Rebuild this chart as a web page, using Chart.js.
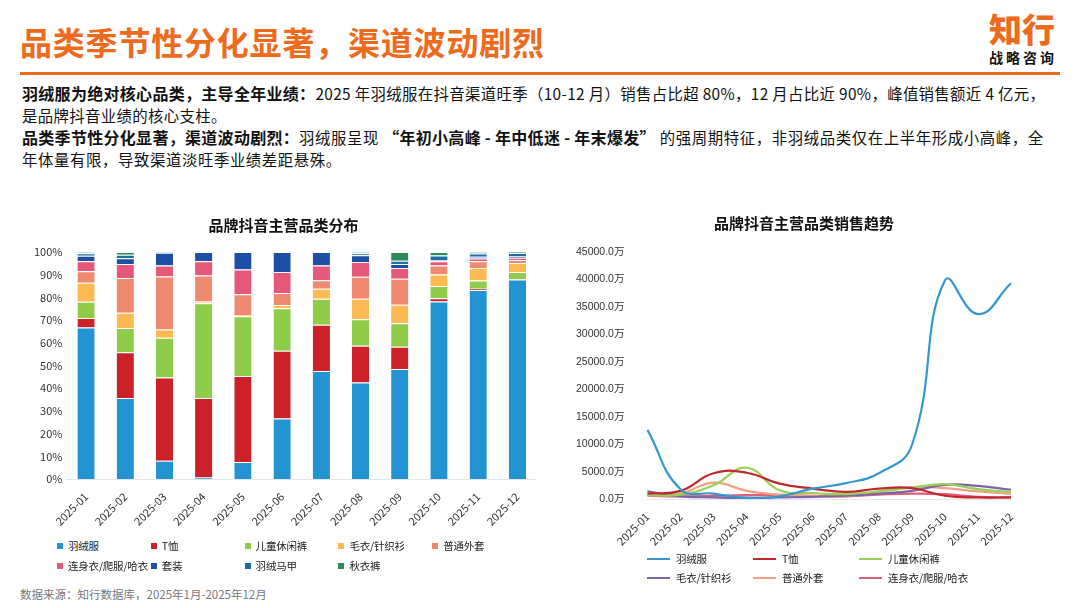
<!DOCTYPE html>
<html>
<head>
<meta charset="utf-8">
<script src="https://cdn.jsdelivr.net/npm/chart.js@4"></script>
<style>
body { margin: 0; width: 1080px; height: 608px; background: #fff; font-family: "Noto Sans CJK SC", "Noto Sans", sans-serif; position: relative; overflow: hidden; }
.title { position: absolute; left: 20px; top: 17px; font-size: 32px; line-height: 48px; font-weight: bold; color: #ee6a1c; letter-spacing: 0.8px; }
.logo1 { position: absolute; right: 25px; top: 6px; font-size: 33px; line-height: 44px; font-weight: 900; color: #ee6a1c; }
.logo2 { position: absolute; right: 23px; top: 47px; font-size: 14px; font-weight: bold; color: #111; letter-spacing: 3px; }
.rule { position: absolute; left: 20px; top: 72px; width: 1040px; height: 3px; background: #ee6a1c; }
.text { position: absolute; left: 22px; top: 82px; font-size: 15.4px; line-height: 22px; color: #111; }
.text b { font-weight: bold; font-size: 16px; letter-spacing: 0.3px; }
.p1 { width: 1036px; letter-spacing: 0.35px; }
.p2 { width: 1030px; letter-spacing: 0.6px; }
.src { position: absolute; left: 20px; top: 586px; font-size: 11.5px; color: #777; }
#c1 { position: absolute; left: 30px; top: 208px; }
#c2 { position: absolute; left: 553px; top: 206px; }
.leg { position: absolute; font-size: 10.5px; color: #222; letter-spacing: -0.2px; }
.leg span { position: absolute; white-space: nowrap; }
.leg i { display: inline-block; vertical-align: middle; margin-right: 5px; position: relative; top: -1px; }
</style>
</head>
<body>
<div class="title">品类季节性分化显著，渠道波动剧烈</div>
<div class="logo1">知行</div>
<div class="logo2">战略咨询</div>
<div class="rule"></div>
<div class="text">
<div class="p1"><b>羽绒服为绝对核心品类，主导全年业绩：</b>2025 年羽绒服在抖音渠道旺季（10-12 月）销售占比超 80%，12 月占比近 90%，峰值销售额近 4 亿元，是品牌抖音业绩的核心支柱。</div>
<div class="p2"><b>品类季节性分化显著，渠道波动剧烈：</b>羽绒服呈现 <b>“年初小高峰 - 年中低迷 - 年末爆发”</b> 的强周期特征，非羽绒品类仅在上半年形成小高峰，全年体量有限，导致渠道淡旺季业绩差距悬殊。</div>
</div>
<canvas id="c1" width="507" height="323"></canvas>
<canvas id="c2" width="502" height="345"></canvas>
<div class="leg" id="leg1"></div>
<div class="leg" id="leg2"></div>
<div class="src">数据来源：知行数据库，2025年1月-2025年12月</div>
<script>
var months = ['2025-01', '2025-02', '2025-03', '2025-04', '2025-05', '2025-06', '2025-07', '2025-08', '2025-09', '2025-10', '2025-11', '2025-12'];

// 品类分布（%）
var shareNames = ['羽绒服', 'T恤', '儿童休闲裤', '毛衣/针织衫', '普通外套', '连身衣/爬服/哈衣', '套装', '羽绒马甲', '秋衣裤'];
var shareColors = ['#2493d1', '#cc2128', '#8fcc4a', '#fdb954', '#ef8a70', '#e5587a', '#1f4ea6', '#1d6ea6', '#2e8a5a'];
var shareDown = [66.8, 35.7, 8.1, 0.7, 7.5, 26.7, 47.6, 42.5, 48.5, 78.2, 83.3, 87.9];
var shareTee = [4.1, 20.1, 36.6, 35.0, 37.9, 29.8, 20.4, 16.2, 9.8, 1.4, 0.5, 0.2];
var shareKidsPants = [7.2, 10.7, 17.5, 41.7, 26.3, 18.7, 11.4, 11.7, 10.3, 5.4, 3.7, 3.1];
var shareKnit = [8.4, 6.7, 3.7, 0.8, 0.6, 1.5, 4.4, 9.0, 8.2, 5.1, 5.4, 4.0];
var shareCoat = [5.0, 15.3, 23.3, 11.5, 9.1, 5.2, 3.8, 9.7, 11.4, 4.0, 3.0, 1.3];
var shareRomper = [4.4, 6.2, 4.9, 6.2, 10.9, 9.3, 6.5, 6.5, 4.7, 1.8, 1.2, 1.0];
var shareSet = [2.5, 2.6, 5.6, 4.1, 7.7, 8.8, 5.9, 3.0, 1.8, 0.5, 0.8, 0.5];
var shareVest = [1.0, 1.5, 0.2, 0, 0, 0, 0, 0.8, 1.5, 2.1, 1.4, 1.6];
var shareThermal = [0.6, 1.2, 0.1, 0, 0, 0, 0, 0.6, 3.8, 1.5, 0.7, 0.4];
var shareData = [shareDown, shareTee, shareKidsPants, shareKnit, shareCoat, shareRomper, shareSet, shareVest, shareThermal];
var shareTicks = [0, 10, 20, 30, 40, 50, 60, 70, 80, 90, 100];

// 销售趋势（万元）
var trendNames = ['羽绒服', 'T恤', '儿童休闲裤', '毛衣/针织衫', '普通外套', '连身衣/爬服/哈衣'];
var trendColors = ['#3497cf', '#c1272d', '#98d058', '#7c64a6', '#f1a083', '#e45b78'];
var salesDown = [12600, 1800, 1000, 200, 500, 1900, 2900, 4700, 9800, 39800, 33700, 39300];
var salesTee = [1000, 1500, 4700, 4800, 2800, 1900, 1300, 1900, 2000, 600, 300, 300];
var salesKidsPants = [700, 800, 2500, 5700, 1600, 1100, 900, 1400, 2100, 2700, 1800, 1300];
var salesKnit = [1400, 500, 300, 200, 300, 400, 600, 1000, 1500, 2600, 2400, 1700];
var salesCoat = [700, 1000, 3000, 1500, 800, 600, 500, 1300, 2200, 2000, 1400, 1000];
var salesRomper = [600, 500, 600, 700, 700, 600, 500, 800, 1000, 900, 400, 300];
var salesData = [salesDown, salesTee, salesKidsPants, salesKnit, salesCoat, salesRomper];

Chart.defaults.font.family = 'Noto Sans CJK SC';
Chart.defaults.color = '#333';
Chart.defaults.animation = false;

var barSets = [];
for (var i = 0; i < shareNames.length; i++) {
    barSets.push({
        label: shareNames[i],
        data: shareData[i],
        backgroundColor: shareColors[i],
        borderColor: '#ffffff',
        borderWidth: { top: 1, bottom: 0, left: 0, right: 0 },
        borderSkipped: false,
        barPercentage: 0.88,
        categoryPercentage: 0.5
    });
}

var chart1 = new Chart(document.getElementById('c1'), {
    type: 'bar',
    data: { labels: months, datasets: barSets },
    options: {
        responsive: false,
        plugins: {
            legend: { display: false },
            tooltip: { enabled: false },
            title: { display: true, text: '品牌抖音主营品类分布', font: { size: 15, weight: 'bold' }, color: '#111', padding: { top: 8, bottom: 18 } }
        },
        scales: {
            x: {
                stacked: true,
                grid: { display: false },
                border: { color: '#dfe6ee' },
                ticks: { minRotation: 45, maxRotation: 45, font: { size: 11 }, color: '#333' }
            },
            y: {
                stacked: true,
                min: 0,
                max: 100,
                grid: { display: false, drawTicks: false },
                border: { display: false },
                afterBuildTicks: function (axis) { axis.ticks = shareTicks.map(function (v) { return { value: v }; }); },
                ticks: { padding: 4, font: { size: 11 }, color: '#333', callback: function (v) { return v + '%'; } }
            }
        }
    }
});

var lineSets = [];
for (var j = 0; j < trendNames.length; j++) {
    lineSets.push({
        label: trendNames[j],
        data: salesData[j],
        borderColor: trendColors[j],
        backgroundColor: trendColors[j],
        borderWidth: 2.2,
        pointRadius: 0,
        tension: 0.45,
        fill: false
    });
}

var chart2 = new Chart(document.getElementById('c2'), {
    type: 'line',
    data: { labels: months, datasets: lineSets },
    options: {
        responsive: false,
        plugins: {
            legend: { display: false },
            tooltip: { enabled: false },
            title: { display: true, text: '品牌抖音主营品类销售趋势', font: { size: 15, weight: 'bold' }, color: '#111', padding: { top: 8, bottom: 20 } }
        },
        scales: {
            x: {
                grid: { display: false },
                border: { color: '#dfe6ee' },
                ticks: { minRotation: 45, maxRotation: 45, font: { size: 11 }, color: '#333' }
            },
            y: {
                min: 0,
                max: 45000,
                grid: { display: false, drawTicks: false },
                border: { display: false },
                ticks: { stepSize: 5000, padding: 23, font: { size: 10.5, family: 'Liberation Sans, Noto Sans CJK SC' }, color: '#333', callback: function (v) { return v.toFixed(1) + '万'; } }
            },
            // empty right axis, only keeps room on the right so the title stays centred
            yRight: {
                position: 'right',
                grid: { display: false, drawTicks: false },
                border: { display: false },
                ticks: { display: false },
                afterFit: function (s) { s.width = 44; }
            }
        }
    }
});

// legends built from the chart datasets
function makeLegend(el, chart, left, top, colW, rowH, perRow, isLine) {
    el.style.left = left + 'px';
    el.style.top = top + 'px';
    chart.data.datasets.forEach(function (ds, k) {
        var s = document.createElement('span');
        s.style.left = (k % perRow) * colW + 'px';
        s.style.top = Math.floor(k / perRow) * rowH + 'px';
        var m = document.createElement('i');
        if (isLine) {
            m.style.width = '23px'; m.style.height = '2.5px'; m.style.marginRight = '6px';
        } else {
            m.style.width = '6px'; m.style.height = '6px';
        }
        m.style.background = isLine ? ds.borderColor : ds.backgroundColor;
        s.appendChild(m);
        s.appendChild(document.createTextNode(ds.label));
        el.appendChild(s);
    });
}
makeLegend(document.getElementById('leg1'), chart1, 57, 538, 93.8, 20, 5, false);
makeLegend(document.getElementById('leg2'), chart2, 647, 551, 106, 19, 3, true);
</script>
</body>
</html>
